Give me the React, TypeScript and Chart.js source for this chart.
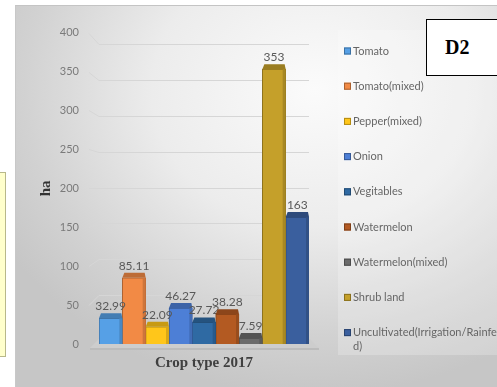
import { useEffect, useRef } from 'react';
import { Chart, registerables } from 'chart.js';

Chart.register(...registerables);

// Land use by crop type, 2017 (hectares)
const categories = ['Crop type 2017'];
const seriesNames = [
  'Tomato',
  'Tomato(mixed)',
  'Pepper(mixed)',
  'Onion',
  'Vegitables',
  'Watermelon',
  'Watermelon(mixed)',
  'Shrub land',
  'Uncultivated(Irrigation/Rainfed)',
];
const seriesValues = [32.99, 85.11, 22.09, 46.27, 27.72, 38.28, 7.59, 353, 163];
const seriesColors = [
  '#56a0e6',
  '#f28a45',
  '#ffc61a',
  '#4d7fd6',
  '#2f6aa3',
  '#b35a22',
  '#6b6b6b',
  '#c5a02a',
  '#3a5f9e',
];
const legendLines = [
  ['Tomato'],
  ['Tomato(mixed)'],
  ['Pepper(mixed)'],
  ['Onion'],
  ['Vegitables'],
  ['Watermelon'],
  ['Watermelon(mixed)'],
  ['Shrub land'],
  ['Uncultivated(Irrigation/Rainfe', 'd)'],
];
const yTicks = [0, 50, 100, 150, 200, 250, 300, 350, 400];

const UI_FONT = 'Lato, "Open Sans", sans-serif';
const SERIF = '"Liberation Serif", "DejaVu Serif", serif';

function shade(hex: string, f: number): string {
  const n = parseInt(hex.slice(1), 16);
  const r = Math.round(((n >> 16) & 255) * f);
  const g = Math.round(((n >> 8) & 255) * f);
  const b = Math.round((n & 255) * f);
  const c = (v: number) => Math.max(0, Math.min(255, v)).toString(16).padStart(2, '0');
  return '#' + c(r) + c(g) + c(b);
}

// back-wall grid lines with a short perspective leg, plus the floor slab
const wallPlugin = {
  id: 'wall',
  beforeDatasetsDraw(chart: any) {
    const { ctx, chartArea } = chart;
    const ys = chart.scales.y;
    const y0 = ys.getPixelForValue(0);
    ctx.save();
    ctx.strokeStyle = '#d6d6d6';
    ctx.lineWidth = 1;
    yTicks.forEach((v) => {
      if (v === 0) return;
      const ty = ys.getPixelForValue(v);
      const backY = y0 - 13 + (ty - y0) * 0.921;
      ctx.beginPath();
      ctx.moveTo(chartArea.left - 10, Math.round(ty) + 0.5);
      ctx.lineTo(chartArea.left, Math.round(backY) + 0.5);
      ctx.lineTo(chartArea.right, Math.round(backY) + 0.5);
      ctx.stroke();
    });
    // floor
    const l = chartArea.left;
    const r = chartArea.right;
    ctx.fillStyle = '#cdcdcd';
    ctx.beginPath();
    ctx.moveTo(l - 9, y0 + 4);
    ctx.lineTo(r + 10, y0 + 4);
    ctx.lineTo(r + 1, y0 - 5);
    ctx.lineTo(l, y0 - 5);
    ctx.closePath();
    ctx.fill();
    ctx.fillStyle = '#bcbcbc';
    ctx.fillRect(l - 9, y0 + 4, r - l + 19, 2);
    ctx.restore();
  },
  afterDatasetsDraw(chart: any) {
    const { ctx } = chart;
    ctx.save();
    chart.data.datasets.forEach((ds: any, i: number) => {
      const bar = chart.getDatasetMeta(i).data[0];
      if (!bar) return;
      const x0 = bar.x - bar.width / 2;
      const x1 = bar.x + bar.width / 2;
      const top = bar.y;
      const col = seriesColors[i];
      // top face
      ctx.fillStyle = shade(col, 0.78);
      ctx.beginPath();
      ctx.moveTo(x0, top);
      ctx.lineTo(x0 + 2, top - 5);
      ctx.lineTo(x1 - 1, top - 5);
      ctx.lineTo(x1, top);
      ctx.closePath();
      ctx.fill();
      // side shading
      ctx.fillStyle = shade(col, 0.85);
      ctx.fillRect(x1 - 3, top, 3, bar.base - top);
      // value label
      ctx.fillStyle = '#595959';
      ctx.font = '12px ' + UI_FONT;
      ctx.textAlign = 'center';
      ctx.textBaseline = 'middle';
      ctx.fillText(String(ds.data[0]), bar.x, top - 12);
    });
    ctx.restore();
  },
};

// legend drawn down the right-hand side
const sideLegendPlugin = {
  id: 'sideLegend',
  afterDraw(chart: any) {
    const { ctx } = chart;
    ctx.save();
    ctx.fillStyle = 'rgba(255,255,255,0.22)';
    ctx.fillRect(322, 24, 160, 325);
    ctx.font = '11px ' + UI_FONT;
    ctx.textAlign = 'left';
    ctx.textBaseline = 'middle';
    legendLines.forEach((lines, i) => {
      const cy = 45 + i * 35.2;
      ctx.fillStyle = seriesColors[i];
      ctx.fillRect(328, cy - 3.5, 7, 7);
      ctx.strokeStyle = shade(seriesColors[i], 0.7);
      ctx.lineWidth = 1;
      ctx.strokeRect(328.5, cy - 3, 6, 6);
      ctx.fillStyle = '#666666';
      lines.forEach((t, k) => ctx.fillText(t, 337, cy + k * 14));
    });
    ctx.restore();
  },
};

export default function App() {
  const ref = useRef<HTMLCanvasElement | null>(null);

  useEffect(() => {
    if (!ref.current) return;
    const chart = new Chart(ref.current, {
      type: 'bar',
      data: {
        labels: categories,
        datasets: seriesNames.map((name, i) => ({
          label: name,
          data: [seriesValues[i]],
          backgroundColor: seriesColors[i],
          borderColor: shade(seriesColors[i], 0.72),
          borderWidth: 1,
          categoryPercentage: 1,
          barPercentage: 1,
        })),
      },
      options: {
        responsive: false,
        animation: false,
        layout: { padding: { left: 0, right: 189, top: 20, bottom: 0 } },
        plugins: {
          legend: { display: false },
          tooltip: { enabled: false },
        },
        scales: {
          x: {
            grid: { display: false, drawTicks: false },
            border: { display: false },
            ticks: {
              color: '#404040',
              padding: 10,
              font: { family: SERIF, size: 15, weight: 'bold' },
            },
            afterFit: (s: any) => {
              s.height = 43;
            },
          },
          y: {
            min: 0,
            max: 400,
            grid: { display: false, drawTicks: false },
            border: { display: false },
            afterBuildTicks: (s: any) => {
              s.ticks = yTicks.map((v) => ({ value: v }));
            },
            ticks: {
              color: '#7a7a7a',
              padding: 20,
              font: { family: UI_FONT, size: 11 },
            },
            title: {
              display: true,
              text: 'ha',
              color: '#333333',
              padding: { top: 21, bottom: 0 },
              font: { family: SERIF, size: 15, weight: 'bold' },
            },
            afterFit: (s: any) => {
              s.width = 83;
            },
          },
        },
      },
      plugins: [wallPlugin, sideLegendPlugin],
    });
    return () => chart.destroy();
  }, []);

  return (
    <div style={{ position: 'fixed', left: 0, top: 0, width: 497, height: 387, overflow: 'hidden', background: '#ffffff' }}>
      <div
        style={{
          position: 'absolute',
          left: -4,
          top: 172,
          width: 8,
          height: 183,
          background: '#ffffcc',
          border: '1px solid #b8b88a',
        }}
      />
      <div
        style={{
          position: 'absolute',
          left: 15,
          top: 5,
          width: 482,
          height: 382,
          boxSizing: 'border-box',
          borderTop: '1px solid #c4c4c4',
          borderLeft: '1px solid #c8c8c8',
          background:
            'radial-gradient(ellipse 75% 80% at 62% 22%, #fbfbfb 0%, #ececec 45%, #d2d2d2 80%, #c6c6c6 100%)',
        }}
      >
        <canvas ref={ref} width={482} height={381} style={{ display: 'block', width: 482, height: 381 }} />
      </div>
      <div
        style={{
          position: 'absolute',
          left: 426,
          top: 19,
          width: 80,
          height: 57,
          boxSizing: 'border-box',
          background: '#ffffff',
          border: '1.5px solid #000000',
          fontFamily: SERIF,
          fontWeight: 'bold',
          fontSize: 20,
          lineHeight: '54px',
          paddingLeft: 18,
          color: '#000000',
        }}
      >
        D2
      </div>
    </div>
  );
}
